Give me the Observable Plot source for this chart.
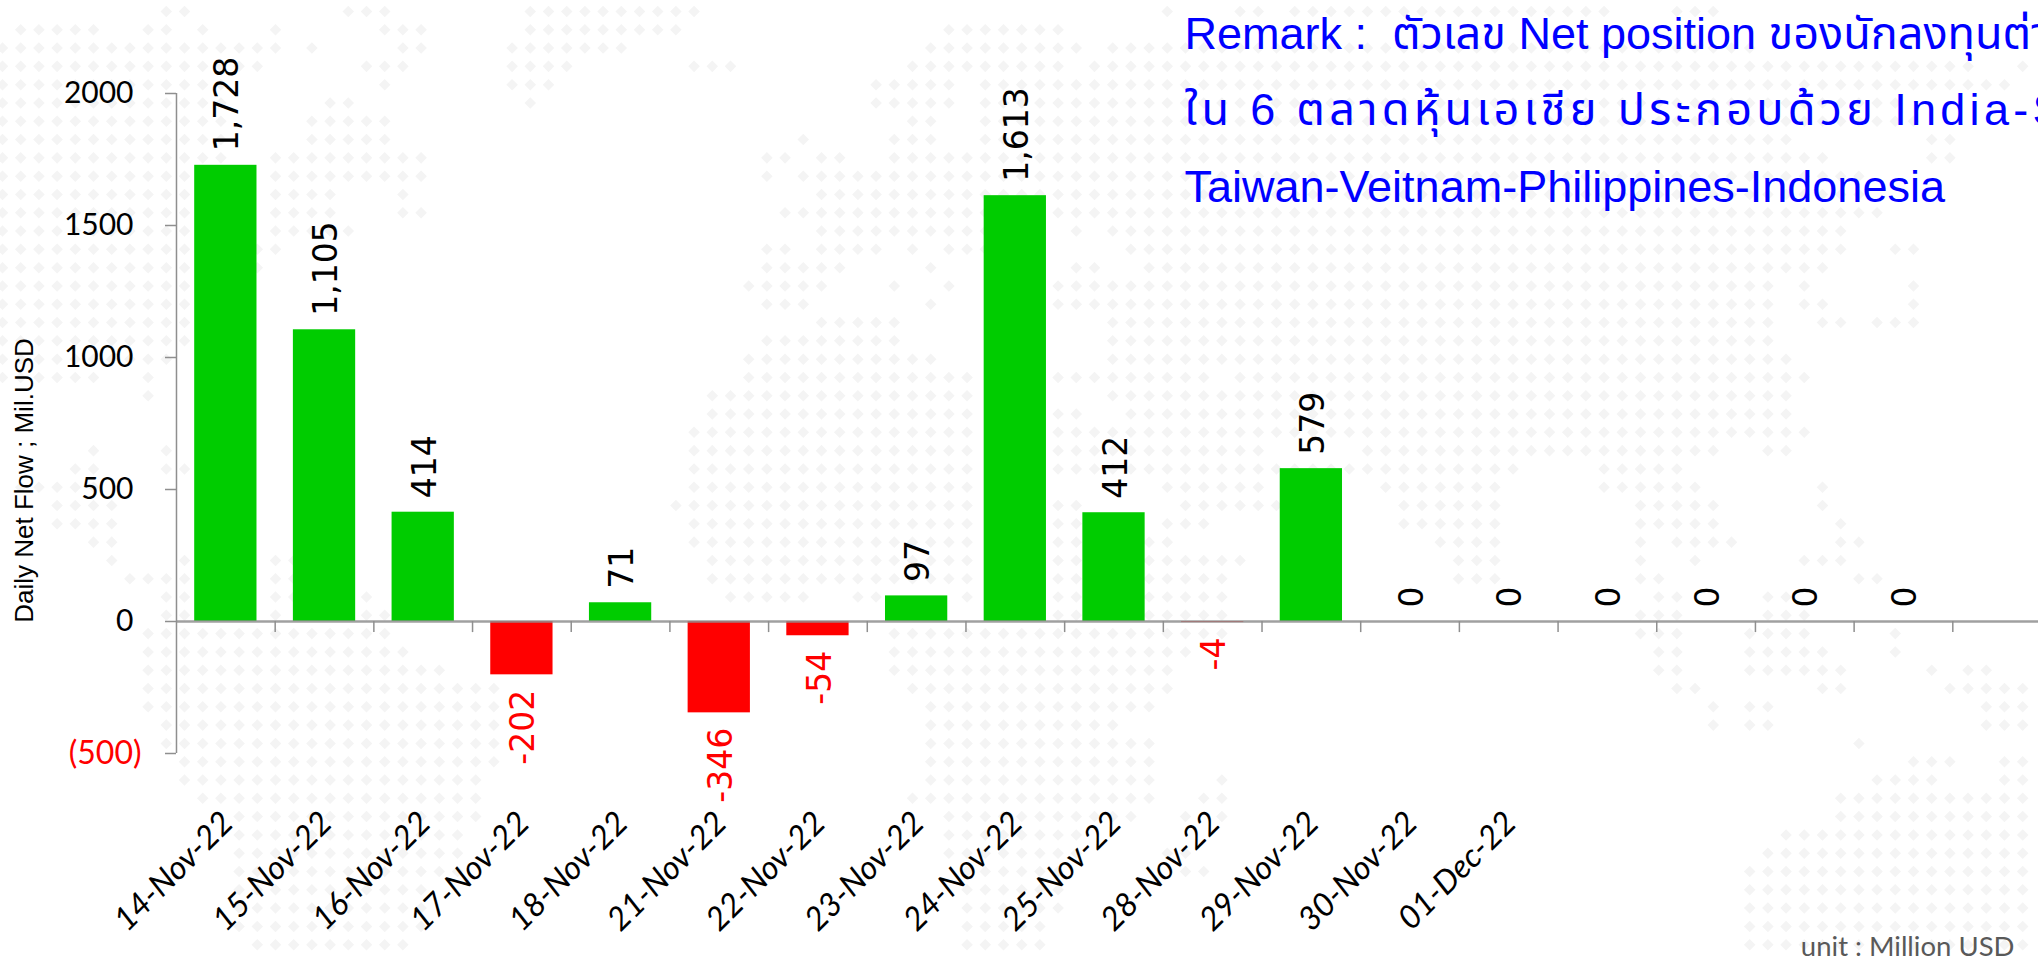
<!DOCTYPE html>
<html>
<head>
<meta charset="utf-8">
<script src="https://cdn.jsdelivr.net/npm/d3@7"></script>
<script src="https://cdn.jsdelivr.net/npm/@observablehq/plot@0.6"></script>
<style>
html,body{margin:0;padding:0;background:#fff;overflow:hidden}
#wrap{position:relative;width:2038px;height:957px;overflow:hidden}
#wrap svg{position:absolute;left:0;top:0;max-width:none}
#wrap .spaced text{letter-spacing:4.3px}
</style>
</head>
<body>
<div id="wrap"></div>
<script>
const dates = ["14-Nov-22","15-Nov-22","16-Nov-22","17-Nov-22","18-Nov-22","21-Nov-22","22-Nov-22","23-Nov-22","24-Nov-22","25-Nov-22","28-Nov-22","29-Nov-22","30-Nov-22","01-Dec-22"];
const flows = [1728,1105,414,-202,71,-346,-54,97,1613,412,-4,579,0,0,0,0,0,0];
const flowLabels = ["1,728","1,105","414","-202","71","-346","-54","97","1,613","412","-4","579","0","0","0","0","0","0"];
const yTicks = [-500,0,500,1000,1500,2000];
const remarkLines = [
  "Remark :  ตัวเลข Net position ของนักลงทุนต่างชาติ",
  "ใน 6 ตลาดหุ้นเอเชีย ประกอบด้วย India-South Korea-",
  "Taiwan-Veitnam-Philippines-Indonesia"
];
const yTitle = "Daily Net Flow ; Mil.USD";
const unitNote = "unit : Million USD";

// Faint dotted world map behind the chart: per row, [first,last] column runs.
const mapRuns = [
 [[9,10],[19,21],[29,38],[64,64],[68,69],[71,88],[92,94]],
 [[1,5],[8,9],[11,11],[15,15],[21,23],[29,37],[52,58]],
 [[0,15],[17,17],[22,23],[28,34],[51,59],[61,96]],
 [[0,14],[20,22],[28,31],[38,40],[50,58],[60,108],[111,111]],
 [[0,12],[21,21],[28,30],[48,52],[54,110]],
 [[0,12],[18,19],[29,29],[48,52],[54,104]],
 [[0,12],[17,21],[50,51],[54,105]],
 [[0,12],[17,21],[44,44],[49,51],[54,98],[106,107]],
 [[0,12],[15,23],[42,43],[45,46],[49,100],[106,107]],
 [[0,12],[15,23],[42,42],[44,102]],
 [[0,12],[15,18],[22,22],[45,102]],
 [[0,12],[15,18],[22,23],[43,103]],
 [[0,12],[15,19],[45,57],[59,59],[61,101]],
 [[0,12],[14,15],[42,43],[45,48],[50,50],[52,57],[62,101],[104,105]],
 [[0,12],[14,14],[42,46],[51,51],[59,60],[63,100]],
 [[0,12],[41,45],[49,49],[52,52],[56,97],[99,99],[105,105]],
 [[0,12],[42,44],[51,51],[56,97],[99,100],[105,105]],
 [[0,12],[45,49],[61,97],[100,101],[103,105]],
 [[0,11],[42,49],[61,97]],
 [[0,9],[41,51],[61,98]],
 [[0,5],[8,8],[41,53],[56,66],[68,99]],
 [[8,8],[39,53],[56,57],[61,98]],
 [[39,53],[56,59],[62,98]],
 [[38,53],[56,99]],
 [[5,5],[9,9],[38,53],[56,69],[75,94],[97,98]],
 [[4,5],[9,10],[38,53],[56,83],[88,92]],
 [[1,5],[38,53],[56,57],[64,69],[76,82],[88,93],[100,100]],
 [[3,6],[37,53],[56,59],[65,70],[77,82],[90,94],[100,100]],
 [[3,6],[38,53],[56,59],[64,66],[77,82],[90,94],[101,101]],
 [[5,6],[38,53],[56,59],[63,64],[79,82],[90,90],[92,95],[101,102]],
 [[6,6],[10,10],[15,16],[39,53],[56,59],[63,68],[80,82],[90,90],[93,93],[99,101]],
 [[7,10],[15,16],[39,53],[56,59],[63,67],[80,82],[90,91],[102,103]],
 [[9,10],[15,16],[20,20],[40,44],[47,48],[53,53],[56,59],[63,67],[91,92],[97,98]],
 [[9,10],[15,15],[20,21],[56,59],[63,67],[90,92],[97,99]],
 [[8,21],[49,67],[90,92],[96,99],[104,104]],
 [[8,22],[49,65],[91,92],[96,100],[104,104]],
 [[8,24],[49,64],[91,92],[96,101],[106,106],[108,109]],
 [[8,27],[50,64],[92,93],[100,101],[107,111]],
 [[8,27],[51,63],[94,94],[96,97],[109,111]],
 [[9,27],[51,61],[94,94],[96,97],[109,111]],
 [[9,27],[51,63],[102,102]],
 [[10,27],[51,63],[105,107],[110,111]],
 [[10,26],[51,63],[67,67],[103,106],[110,111]],
 [[11,26],[50,63],[66,67],[101,111]],
 [[13,26],[52,62],[65,65],[67,67],[101,111]],
 [[13,25],[52,59],[98,111]],
 [[13,25],[52,59],[64,65],[97,111]],
 [[13,25],[53,58],[65,66],[96,111]],
 [[13,23],[53,58],[96,111]],
 [[13,23],[53,58],[96,111]],
 [[13,23],[53,57],[96,111]],
 [[14,22],[53,57],[96,111]]
];

const font = "Lato, 'Noto Sans', sans-serif";
const thaiFont = "'Liberation Sans', 'Noto Sans Thai', 'Noto Sans', 'DejaVu Sans', sans-serif";
const gray = "#8f8f8f";
const rows = flows.map((v,i)=>({i,v,label:flowLabels[i]}));
const cells = mapRuns.flatMap((runs,r)=>runs.flatMap(([a,b])=>d3.range(a,b+1).map(c=>({c,r}))));
const bandIds = d3.range(19);

const backdrop = Plot.plot({
  width:2038,height:957,margin:0,
  style:{background:"transparent"},
  x:{domain:[-0.11,111.87],axis:null},
  y:{domain:[-0.6,51.7],reverse:true,axis:null},
  marks:[Plot.dot(cells,{x:"c",y:"r",symbol:"square",rotate:45,r:4.6,fill:"#f4f4f4",stroke:"none"})]
});

const chart = Plot.plot({
  width:2038,height:957,
  marginLeft:176,marginRight:-13,marginTop:93,marginBottom:204,
  style:{background:"transparent",fontFamily:font,color:"#000"},
  x:{type:"band",domain:bandIds,padding:0,round:false,axis:null},
  y:{domain:[-500,2000],axis:null},
  color:{type:"identity"},
  marks:[
    Plot.barY(rows,{x:"i",y:"v",fill:d=>d.v<0?"#ff0000":"#00cc00",insetLeft:18.2,insetRight:18.2}),
    Plot.ruleY([0],{stroke:gray,strokeWidth:2.5,strokeOpacity:0.85}),
    Plot.ruleX([0],{x:d=>d,y1:-500,y2:2000,dx:-49.35,stroke:gray,strokeWidth:1.5}),
    Plot.ruleX(bandIds.slice(1),{x:d=>d,y1:0,y2:-42,dx:-49.35,stroke:gray,strokeWidth:1.5}),
    Plot.axisY(yTicks,{anchor:"left",tickSize:11,stroke:gray,strokeWidth:1.5,fill:"none"}),
    Plot.axisY(yTicks.filter(d=>d>=0),{anchor:"left",tickSize:0,tickPadding:43,fontSize:30,fill:"#000",tickFormat:d=>String(d),label:null}),
    Plot.axisY(yTicks.filter(d=>d<0),{anchor:"left",tickSize:0,tickPadding:35,fontSize:32,fill:"#ff0000",tickFormat:()=>"(500)",label:null}),
    Plot.axisX(d3.range(dates.length),{anchor:"bottom",tickSize:0,tickPadding:64,tickRotate:-45,fontSize:32.5,fill:"#000",fontStyle:"italic",tickFormat:i=>dates[i],label:null,dx:2,dy:0}),
    Plot.text(rows.filter(d=>d.v>=0),{x:"i",y:"v",text:"label",rotate:-90,textAnchor:"start",lineAnchor:"middle",dy:-14,dx:2,fontSize:33,fontFamily:"'DejaVu Sans'",fill:"#000"}),
    Plot.text(rows.filter(d=>d.v<0),{x:"i",y:"v",text:"label",rotate:-90,textAnchor:"end",lineAnchor:"middle",dy:15,dx:2,fontSize:33,fontFamily:"'DejaVu Sans'",fill:"#ff0000"}),
    Plot.text([yTitle],{text:d=>d,frameAnchor:"top-left",rotate:-90,textAnchor:"middle",lineAnchor:"middle",dx:-152,dy:387,fontSize:26,fontFamily:"'Liberation Sans'",fill:"#000"}),
    Plot.text([remarkLines[0]],{text:d=>d,frameAnchor:"top-left",textAnchor:"start",lineAnchor:"bottom",dx:1008,dy:-45,fontSize:45,fontFamily:thaiFont,fill:"#0000ff"}),
    Plot.text([remarkLines[1]],{text:d=>d,frameAnchor:"top-left",textAnchor:"start",lineAnchor:"bottom",dx:1008,dy:31,fontSize:45,fontFamily:thaiFont,fill:"#0000ff",className:"spaced"}),
    Plot.text([remarkLines[2]],{text:d=>d,frameAnchor:"top-left",textAnchor:"start",lineAnchor:"bottom",dx:1008,dy:108,fontSize:45,fontFamily:thaiFont,fill:"#0000ff"}),
    Plot.text([unitNote],{text:d=>d,frameAnchor:"bottom-right",textAnchor:"end",lineAnchor:"bottom",dx:-37,dy:202,fontSize:27.5,fontFamily:font,fill:"#595959"})
  ]
});
const wrap=document.getElementById("wrap");
wrap.append(backdrop,chart);
</script>
</body>
</html>
